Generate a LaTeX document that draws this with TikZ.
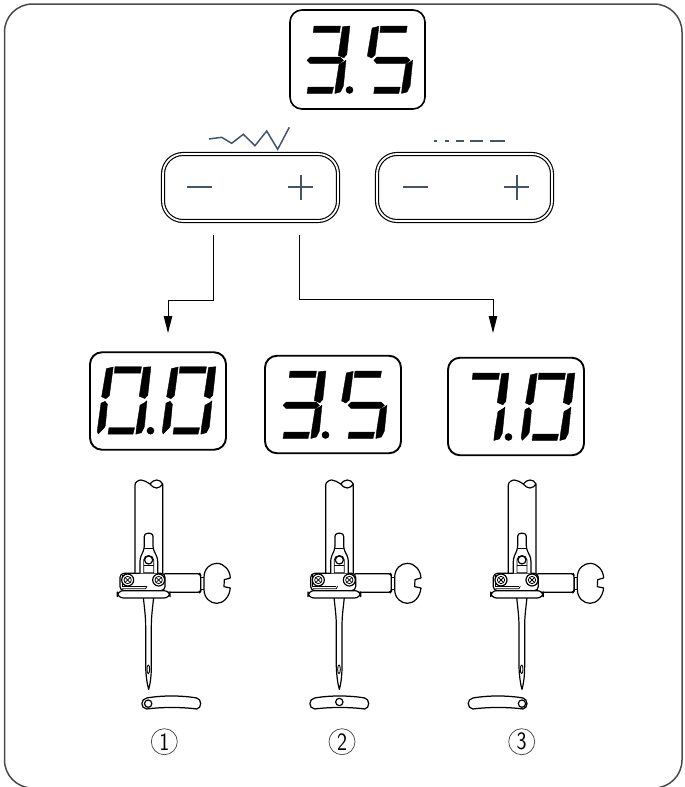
\documentclass[tikz,border=0pt]{standalone}
\usetikzlibrary{arrows.meta}
\definecolor{slate}{HTML}{44546A}
\definecolor{framegray}{HTML}{4A4A4A}
\tikzset{
  dispbox/.style={draw=black,line width=1.9pt,rounded corners=12pt,inner sep=0pt,outer sep=0pt,fill=white},
  btnbox/.style={draw=black,double=white,double distance=1.8pt,line width=1.15pt,rounded corners=20pt,minimum width=175pt,minimum height=67pt,inner sep=0pt,outer sep=0pt},
  iconline/.style={draw=slate,line width=2pt},
  conn/.style={draw=black,line width=1pt,-{Triangle[length=17pt,width=8.5pt]}},
  mech/.style={draw=black,line width=1.2pt,line join=round,fill=white},
  thin mech/.style={draw=black,line width=0.75pt},
  seg/.style={fill=black,draw=black,line width=0.35pt,line join=round},
  numc/.style={draw=black!75,circle,line width=0.7pt,minimum size=26pt,inner sep=0pt,font=\sffamily\fontsize{25}{25}\selectfont}
}
\newcommand{\sA}{\path[seg] (7,0)--(33.5,0)--(32.5,6.5)--(6.2,6.5)--cycle;}
\newcommand{\sB}{\path[seg] (35.6,0.6)--(42.9,0)--(39.8,28.5)--(36.8,31.8)--(31.2,29.5)--cycle;}
\newcommand{\sC}{\path[seg] (32,38.5)--(36.8,35.8)--(39,34)--(36.4,60)--(33.4,66)--(27.8,67.5)--(28.6,60)--cycle;}
\newcommand{\sD}{\path[seg] (1,61)--(26.6,61)--(25,67.5)--(0,67.5)--cycle;}
\newcommand{\sE}{\path[seg] (-7,36.5)--(-3,34.6)--(-0.6,37.5)--(-2.6,59)--(-4,61.5)--(-9.8,67.3)--(-10.8,64.5)--cycle;}
\newcommand{\sF}{\path[seg] (-1.6,2)--(5.2,0.3)--(4.2,8)--(1.4,29)--(-2.2,32)--(-6.4,30)--cycle;}
\newcommand{\sG}{\path[seg] (0,34.3)--(3.5,31)--(33,31)--(36.5,34.3)--(33,37.5)--(3,37.5)--cycle;}
\newcommand{\sP}{\fill (42.5,64) circle (3.8);}
\newcommand{\dThree}[2]{\begin{scope}[shift={(#1,#2)}]\sA\sB\sC\sD\sG\sP\end{scope}}
\newcommand{\dFive}[2]{\begin{scope}[shift={(#1,#2)}]\sA\sF\sG\sC\sD\end{scope}}
\newcommand{\dZero}[2]{\begin{scope}[shift={(#1,#2)}]\sA\sB\sC\sD\sE\sF\end{scope}}
\newcommand{\dZeroP}[2]{\begin{scope}[shift={(#1,#2)}]\sA\sB\sC\sD\sE\sF\sP\end{scope}}
\newcommand{\dSevenP}[2]{\begin{scope}[shift={(#1,#2)}]\sA\sB\sC\sP\end{scope}}
% needle assembly: coordinates are those of a 3x crop
\newcommand{\needle}[1]{%
\begin{scope}[shift={(#1,490)},x=0.3333pt,y=-0.3333pt]
  % shaft
  \draw[mech,fill=none] (165,255)--(165,-15) .. controls (165,-24) and (176,-30) .. (183,-30) .. controls (192,-30) and (200,-24) .. (210,-18) .. controls (218,-10) and (222,-6) .. (230,-6) .. controls (238,-6) and (244,-12) .. (248,-18)--(248,255);
  \draw[mech,fill=none] (210,-18) .. controls (218,-26) and (222,-30) .. (230,-30) .. controls (238,-30) and (244,-26) .. (248,-18);
  % needle
  \draw[mech] (190,322) .. controls (194,360) and (197,380) .. (197,410)--(197,530) .. controls (198,560) and (202,585) .. (206,598) .. controls (210,585) and (214,560) .. (214,530)--(214,410) .. controls (214,380) and (217,360) .. (221,322);
  \draw[mech,line width=0.9pt] (205,538) ellipse (4 and 13);
  % thumb screw
  \draw[mech] (362,262) rectangle (374,298);
  \draw[mech] (372,262) .. controls (372,235) and (392,220) .. (410,220) .. controls (432,220) and (450,240) .. (451,264)--(433,269)--(432,290)--(451,294) .. controls (448,322) and (430,340) .. (410,340) .. controls (392,340) and (372,325) .. (372,298)--cycle;
  \draw[mech,rounded corners=2pt] (250,251)--(360,251)--(362,255)--(362,304)--(360,307)--(250,307)--cycle;
  % clamp body
  \draw[mech,rounded corners=4pt] (120,250)--(255,250)--(255,302)--(120,302)--cycle;
  \draw[thin mech] (126,254)--(126,288)--(197,288);
  \draw[thin mech] (126,296)--(197,296)--(201,288);
  % tongue
  \draw[mech,rounded corners=3pt] (180,250)--(180,205)--(193,176)--(193,130)--(219,130)--(219,176)--(233,205)--(233,250);
  \draw[thin mech] (191,248)--(191,210) .. controls (191,192) and (221,192) .. (221,210)--(221,248)--cycle;
  \draw[thin mech] (191,226)--(221,226);
  \draw[mech,fill=none] (206,210) circle (12);
  \draw[mech] (193,176)--(219,176);
  % screws
  \foreach \sx in {143,236}{
    \draw[mech] (\sx,270) circle (18);
    \draw[thin mech] (\sx,270) circle (11);
    \draw[thin mech] (\sx-8,262)--(\sx+8,278) (\sx-8,278)--(\sx+8,262);
  }
  % flange
  \draw[mech,rounded corners=6pt] (112,302)--(270,302)--(270,324)--(112,324)--cycle;
\end{scope}}
% plate: #1 left edge in px, #2 hole u, #3 hole y (3x units)
\newcommand{\plate}[3]{%
\begin{scope}[shift={(#1,490)},x=0.3333pt,y=-0.3333pt]
  \draw[mech,line width=1.25pt] (14,624) .. controls (60,616) and (118,616) .. (164,624) .. controls (180,627) and (180,655) .. (164,657) .. controls (120,651) and (60,651) .. (14,657) .. controls (-5,655) and (-5,627) .. (14,624) -- cycle;
  \draw[mech] (#2,#3) circle (11);
\end{scope}}
\begin{document}
\begin{tikzpicture}[x=1pt,y=-1pt]
\useasboundingbox (0,0) rectangle (685,787);
% frame
\draw[framegray,line width=1.5pt,rounded corners=28pt] (4.5,4) rectangle (682,788);
% displays
\node[dispbox,line width=1.6pt,minimum width=135pt,minimum height=99pt] (dispTop) at (357.5,59.5) {};
\dThree{307}{26}\dFive{373.7}{26}
\node[dispbox,minimum width=136pt,minimum height=97.5pt] (dispZero) at (158,401) {};
\dZeroP{108}{366.7}\dZero{173}{366.7}
\node[dispbox,minimum width=136pt,minimum height=97.5pt] (dispThree) at (333,404.5) {};
\dThree{283}{371}\dFive{348}{371}
\node[dispbox,minimum width=136pt,minimum height=97.5pt] (dispSeven) at (516,406.5) {};
\dSevenP{466}{373}\dZero{532}{373}
% buttons
\node[btnbox] (btnL) at (250.5,187.5) {};
\node[btnbox] (btnR) at (464.5,187.5) {};
\draw[iconline] (187,187)--(212,187) (288,187)--(313,187) (300.5,175)--(300.5,200);
\draw[iconline] (403,187)--(428,187) (504,187)--(529,187) (516.5,175)--(516.5,200);
\draw[slate,line width=1.5pt,line join=miter] (209,139)--(221.7,137.3)--(231.7,143.3)--(243.3,134.3)--(255,145.7)--(266.7,131)--(277.7,149.3)--(289.3,127.3);
\draw[slate,line width=1.6pt] (434,141)--(436.7,141) (445,141)--(448.5,141) (456,141)--(464,141) (470,141)--(483,141) (490,141)--(505,141);
% connectors
\coordinate (dropA) at (213.5,235);
\coordinate (dropB) at (299,235);
\coordinate (tipA) at (168,333);
\coordinate (tipB) at (493,333);
\draw[conn] (dropA) -- ++(0,65) -| (tipA);
\draw[conn] (dropB) -- ++(0,64) -| (tipB);
% needles
\needle{80}\needle{270.67}\needle{453.33}
\plate{142}{18.5}{641}
\plate{310}{88}{636}
\plate{468.3}{161}{641}
% numbers
\node[numc] (n1) at (164.3,741.7) {\scalebox{.85}[1]{1}};
\node[numc] (n2) at (342,741.7) {\scalebox{.85}[1]{2}};
\node[numc] (n3) at (521.7,741.7) {\scalebox{.85}[1]{3}};
\end{tikzpicture}
\end{document}
